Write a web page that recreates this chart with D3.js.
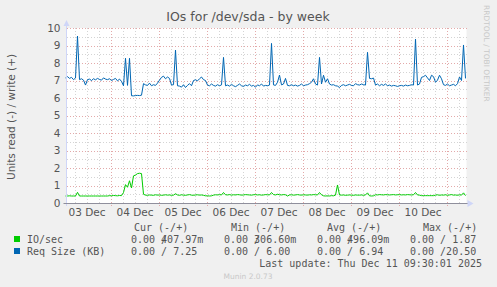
<!DOCTYPE html>
<html>
<head>
<meta charset="utf-8">
<script src="https://cdn.jsdelivr.net/npm/d3@7"></script>
<style>
  body { margin: 0; background: #f0f0f0; }
  svg { display: block; font-family: "DejaVu Sans", sans-serif; }
  .mono { font-family: "DejaVu Sans Mono", monospace; font-size: 10px; fill: #555; }
</style>
</head>
<body>
<div id="wrapper"></div>
<script>
// hourly samples starting Wed Dec 3 01:30
const ioSec = [
  0.40, 0.40, 0.41, 0.40, 0.40, 0.40, 0.61,
  0.40, 0.40, 0.40, 0.40, 0.40, 0.40, 0.40, 0.40, 0.40, 0.40, 0.40, 0.40, 0.40, 0.40, 0.40,
  0.42, 0.41, 0.43, 0.42, 0.41, 0.43, 0.42,
  0.60, 1.05, 0.90, 1.27, 0.86, 1.55, 1.60, 1.68, 1.70, 1.68, 0.50,
  0.45, 0.44, 0.46, 0.45, 0.44, 0.47, 0.45, 0.46, 0.44, 0.45, 0.47,
  0.45, 0.46, 0.44, 0.45, 0.53,
  0.46, 0.44, 0.47, 0.45, 0.44, 0.46, 0.48, 0.45, 0.44, 0.46, 0.47, 0.45, 0.46, 0.44,
  0.41, 0.41, 0.40, 0.41,
  0.45, 0.47, 0.46, 0.48, 0.46, 0.60,
  0.47, 0.46, 0.48, 0.45, 0.47, 0.46, 0.48, 0.47, 0.45, 0.46, 0.48,
  0.47, 0.46, 0.45, 0.47, 0.48, 0.46, 0.47, 0.45, 0.46, 0.48, 0.47,
  0.46, 0.60,
  0.48, 0.46, 0.50, 0.47, 0.46, 0.48, 0.47, 0.40,
  0.46, 0.47, 0.45, 0.46, 0.48, 0.46, 0.45, 0.47, 0.46, 0.45, 0.47, 0.46, 0.48, 0.47, 0.46,
  0.60, 0.47,
  0.41, 0.40, 0.41, 0.40, 0.42, 0.41, 0.45, 1.03,
  0.46, 0.45, 0.46, 0.44, 0.45, 0.46, 0.45, 0.44, 0.46, 0.45, 0.45, 0.46, 0.44,
  0.46, 0.58, 0.41, 0.40, 0.41,
  0.47, 0.46, 0.48, 0.47, 0.46, 0.48, 0.47, 0.46, 0.47, 0.48,
  0.46, 0.47, 0.48, 0.46, 0.47, 0.46, 0.48, 0.47, 0.46, 0.47,
  0.60, 0.46, 0.45,
  0.42, 0.42, 0.42, 0.42, 0.42, 0.42, 0.42,
  0.45, 0.47, 0.44, 0.46, 0.45, 0.47, 0.44, 0.46, 0.48, 0.45, 0.46, 0.44, 0.47, 0.45,
  0.58, 0.42,
];

const reqSize = [
  7.15, 7.22, 7.12, 7.18, 7.05, 7.14, 9.54, 7.05, 7.10, 7.02,
  6.74, 7.05, 7.08, 7.00, 7.10, 7.04, 7.12, 7.06, 7.02, 7.15,
  7.08, 7.05, 7.10, 7.00, 7.06, 7.12, 6.98, 7.08, 6.95, 6.70,
  8.27, 6.72, 8.27, 6.13, 6.12, 6.14, 6.15, 6.14, 6.16, 6.82,
  6.75, 6.72, 6.85, 6.70, 6.76, 6.72, 6.85, 7.02, 7.18, 7.25,
  7.10, 7.20, 7.12, 6.74, 6.76, 8.74, 6.70, 6.68, 6.62, 6.76,
  6.60, 6.72, 6.82, 6.70, 7.00, 7.04, 6.98, 7.10, 7.20, 7.05,
  7.00, 6.74, 6.70, 6.80, 6.72, 6.68, 6.76, 6.70, 6.75, 8.32,
  6.70, 6.74, 6.68, 6.78, 6.70, 6.65, 6.72, 6.80, 6.70, 6.66,
  6.74, 6.70, 6.78, 6.68, 6.72, 6.62, 6.75, 6.70, 6.80, 6.68,
  6.72, 6.70, 6.74, 9.12, 6.75, 6.72, 6.90, 7.31, 6.75, 6.80,
  7.12, 6.72, 6.70, 6.76, 6.70, 6.74, 6.68, 6.72, 6.80, 6.70,
  6.74, 6.76, 6.82, 6.90, 7.10, 6.80, 6.74, 8.32, 6.80, 7.30,
  6.90, 7.10, 6.80, 6.74, 6.76, 6.70, 6.68, 6.60, 6.72, 6.76,
  6.70, 6.74, 6.78, 6.72, 6.70, 6.82, 6.76, 6.74, 6.80, 6.76,
  6.74, 8.61, 7.12, 7.10, 7.14, 6.74, 6.80, 6.70, 6.78, 6.72,
  6.80, 6.70, 6.74, 6.68, 6.72, 6.70, 6.66, 6.70, 6.72, 6.68,
  6.74, 6.70, 6.72, 6.76, 6.74, 9.37, 6.74, 6.80, 7.18, 7.22,
  7.30, 7.15, 7.00, 7.30, 7.22, 6.90, 7.02, 7.30, 7.10, 6.76,
  6.72, 6.80, 6.70, 6.74, 6.78, 6.70, 6.82, 7.20, 7.00, 9.03,
  7.12,
];

const yTicks = [0, 1, 2, 3, 4, 5, 6, 7, 8, 9, 10];
const dayLabels = ["03 Dec", "04 Dec", "05 Dec", "06 Dec", "07 Dec", "08 Dec", "09 Dec", "10 Dec"];

const legendNames = ["IO/sec", "Req Size (KB)"];
const legendColors = ["#00cc00", "#0066b3"];
const legendHeaders = ["Cur (-/+)", "Min (-/+)", "Avg (-/+)", "Max (-/+)"];
const legendCur = [["0.00", "407.97m"], ["0.00", "7.25"]];
const legendMin = [["0.00", "306.60m"], ["0.00", "6.00"]];
const legendAvg = [["0.00", "496.09m"], ["0.00", "6.94"]];
const legendMax = [["0.00", "1.87"], ["0.00", "20.50"]];

function drawChart() {
  const width = 497;
  const height = 287;
  const plot = { left: 66.5, right: 466.5, top: 28, bottom: 203 };

  const svg = d3
    .select("#wrapper")
    .append("svg")
    .attr("width", width)
    .attr("height", height);

  svg.append("rect").attr("width", width).attr("height", height).attr("fill", "#f0f0f0");

  const start = new Date(2025, 11, 3, 1, 30);
  const end = new Date(2025, 11, 11, 9, 30);
  const hour = 3600 * 1000;

  const x = d3.scaleTime().domain([start, end]).range([plot.left - 1, plot.right - 1]);
  const y = d3.scaleLinear().domain([0, 10]).range([plot.bottom, plot.top]);

  svg
    .append("rect")
    .attr("x", plot.left)
    .attr("y", plot.top)
    .attr("width", plot.right - plot.left)
    .attr("height", plot.bottom - plot.top)
    .attr("fill", "#ffffff");

  // grid
  const grid = svg.append("g").attr("shape-rendering", "crispEdges");
  const minorY = d3.range(0.5, 10, 1);
  grid
    .selectAll("line.hminor")
    .data(minorY)
    .enter()
    .append("line")
    .attr("x1", plot.left)
    .attr("x2", plot.right)
    .attr("y1", (d) => Math.round(y(d)) + 0.5)
    .attr("y2", (d) => Math.round(y(d)) + 0.5)
    .attr("stroke", "#d4d4d4")
    .attr("stroke-dasharray", "1,2");

  const sixHours = d3.timeHour.every(6).range(start, end).filter((d) => d.getHours() !== 0);
  grid
    .selectAll("line.vminor")
    .data(sixHours)
    .enter()
    .append("line")
    .attr("x1", (d) => Math.round(x(d)) + 0.5)
    .attr("x2", (d) => Math.round(x(d)) + 0.5)
    .attr("y1", plot.top)
    .attr("y2", plot.bottom)
    .attr("stroke", "#d4d4d4")
    .attr("stroke-dasharray", "1,2");

  grid
    .selectAll("line.hmajor")
    .data(yTicks.filter((d) => d > 0))
    .enter()
    .append("line")
    .attr("x1", plot.left)
    .attr("x2", plot.right)
    .attr("y1", (d) => Math.round(y(d)) + 0.5)
    .attr("y2", (d) => Math.round(y(d)) + 0.5)
    .attr("stroke", "#e3a9a9")
    .attr("stroke-dasharray", "1,2");

  const days = d3.timeDay.range(start, end);
  grid
    .selectAll("line.vmajor")
    .data(days)
    .enter()
    .append("line")
    .attr("x1", (d) => Math.round(x(d)) + 0.5)
    .attr("x2", (d) => Math.round(x(d)) + 0.5)
    .attr("y1", plot.top)
    .attr("y2", plot.bottom + 3)
    .attr("stroke", "#e3a9a9")
    .attr("stroke-dasharray", "1,2");

  // series
  const line = d3
    .line()
    .x((_, i) => x(new Date(start.getTime() + i * hour)))
    .y((d) => y(d));

  svg
    .append("path")
    .datum(ioSec)
    .attr("d", line)
    .attr("fill", "none")
    .attr("stroke", legendColors[0])
    .attr("stroke-width", 1);

  svg
    .append("path")
    .datum(reqSize)
    .attr("d", line)
    .attr("fill", "none")
    .attr("stroke", legendColors[1])
    .attr("stroke-width", 1);

  // axes lines + arrows
  svg
    .append("line")
    .attr("x1", plot.left)
    .attr("x2", plot.left)
    .attr("y1", plot.bottom + 3)
    .attr("y2", plot.top - 5)
    .attr("stroke", "#cfd6f8");
  svg
    .append("path")
    .attr("d", `M${plot.left - 3},${plot.top - 2}L${plot.left},${plot.top - 8}L${plot.left + 3},${plot.top - 2}Z`)
    .attr("fill", "#cfd6f8");
  svg
    .append("line")
    .attr("x1", plot.left - 3)
    .attr("x2", plot.right + 2)
    .attr("y1", plot.bottom + 0.5)
    .attr("y2", plot.bottom + 0.5)
    .attr("stroke", "#8f8f9c");
  svg
    .append("path")
    .attr("d", `M${plot.right + 1},${plot.bottom - 3}L${plot.right + 7},${plot.bottom + 0.5}L${plot.right + 1},${plot.bottom + 4}Z`)
    .attr("fill", "#cfd6f8");

  // y axis labels
  const yAxis = d3.axisLeft(y).tickValues(yTicks).tickSize(0).tickPadding(0);
  const gy = svg
    .append("g")
    .attr("transform", `translate(${plot.left - 6},0)`)
    .call(yAxis);
  gy.select(".domain").remove();
  gy.selectAll("text")
    .attr("font-family", "DejaVu Sans, sans-serif")
    .attr("font-size", 10.5)
    .attr("fill", "#555");

  // x axis labels at noon
  const noons = days.map((d) => new Date(d.getTime() + 12 * hour)).concat([]);
  const first = d3.timeDay.floor(start);
  const noonTicks = dayLabels.map((_, i) => new Date(first.getTime() + (i * 24 + 12) * hour));
  const xAxis = d3
    .axisBottom(x)
    .tickValues(noonTicks)
    .tickFormat((_, i) => dayLabels[i])
    .tickSize(0)
    .tickPadding(0);
  const gx = svg
    .append("g")
    .attr("transform", `translate(0,${plot.bottom + 6})`)
    .call(xAxis);
  gx.select(".domain").remove();
  gx.selectAll("text")
    .attr("font-family", "DejaVu Sans, sans-serif")
    .attr("font-size", 10.5)
    .attr("fill", "#555");

  // title + side texts
  svg
    .append("text")
    .attr("x", 248)
    .attr("y", 21)
    .attr("text-anchor", "middle")
    .attr("font-size", 12.5)
    .attr("fill", "#555")
    .text("IOs for /dev/sda - by week");

  svg
    .append("text")
    .attr("transform", "translate(15,117) rotate(-90)")
    .attr("text-anchor", "middle")
    .attr("font-size", 10.5)
    .attr("fill", "#555")
    .text("Units read (-) / write (+)");

  svg
    .append("text")
    .attr("transform", "translate(484,5) rotate(90)")
    .attr("font-size", 7.5)
    .attr("fill", "#c8c8c8")
    .text("RRDTOOL / TOBI OETIKER");

  // legend
  const cw = 6.02;
  const headerX = [134, 231, 327, 423];
  const colX = [131, 224, 317, 410];
  const rowY = [243, 255];

  svg
    .selectAll("text.hdr")
    .data(legendHeaders)
    .enter()
    .append("text")
    .attr("class", "mono")
    .attr("x", (_, i) => headerX[i])
    .attr("y", 231)
    .text((d) => d);

  const cols = [legendCur, legendMin, legendAvg, legendMax];
  legendNames.forEach((name, r) => {
    svg
      .append("rect")
      .attr("x", 14)
      .attr("y", rowY[r] - 7)
      .attr("width", 6)
      .attr("height", 6)
      .attr("fill", legendColors[r]);
    svg
      .append("text")
      .attr("class", "mono")
      .attr("x", 27)
      .attr("y", rowY[r])
      .text(name);
    cols.forEach((col, c) => {
      const [rd, wr] = col[r];
      svg
        .append("text")
        .attr("class", "mono")
        .attr("x", colX[c])
        .attr("y", rowY[r])
        .text(rd + " /");
      const hasSuffix = /[a-zA-Z]$/.test(wr);
      const num = hasSuffix ? wr.slice(0, -1) : wr;
      svg
        .append("text")
        .attr("class", "mono")
        .attr("x", colX[c] + 11 * cw)
        .attr("y", rowY[r])
        .attr("text-anchor", "end")
        .text(num);
      if (hasSuffix) {
        svg
          .append("text")
          .attr("class", "mono")
          .attr("x", colX[c] + 11 * cw)
          .attr("y", rowY[r])
          .text(wr.slice(-1));
      }
    });
  });

  svg
    .append("text")
    .attr("class", "mono")
    .attr("x", 482)
    .attr("y", 267)
    .attr("text-anchor", "end")
    .text("Last update: Thu Dec 11 09:30:01 2025");

  svg
    .append("text")
    .attr("x", 248)
    .attr("y", 279)
    .attr("text-anchor", "middle")
    .attr("font-size", 7.5)
    .attr("fill", "#c8c8c8")
    .text("Munin 2.0.73");
}

drawChart();
</script>
</body>
</html>
